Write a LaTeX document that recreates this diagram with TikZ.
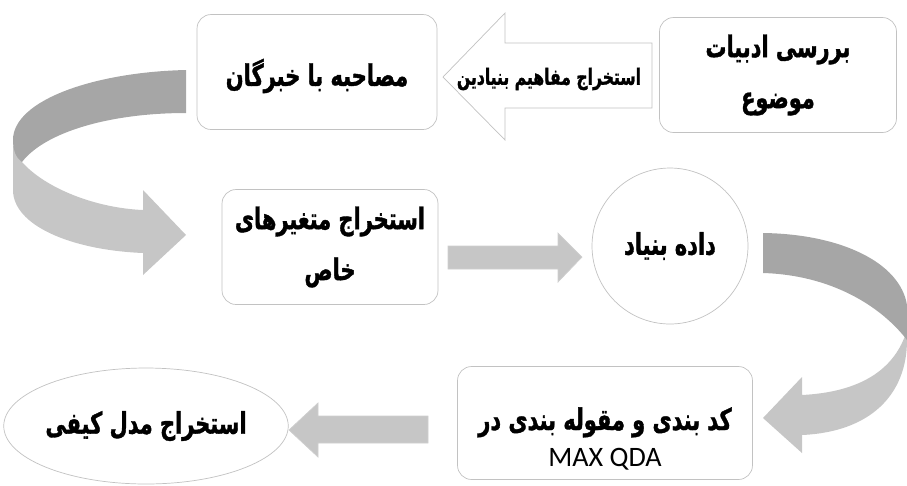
\documentclass[tikz,border=0pt]{standalone}
\usepackage{fontspec}
\usetikzlibrary{calc,positioning,shapes.geometric}
\newfontfamily\fafont[Script=Arabic,FakeStretch=0.7,FakeBold=1.2]{DejaVu Sans}
\newfontfamily\latinfont{Carlito}
\TeXXeTstate=1
\definecolor{boxline}{HTML}{C2C2C2}
\definecolor{arrowdark}{HTML}{A6A6A6}
\definecolor{arrowlight}{HTML}{C6C6C6}

\begin{document}
\begin{tikzpicture}[
  x=0.02cm, y=-0.02cm,
  stepbox/.style={rectangle,rounded corners=8pt,draw=boxline,fill=white,thin,inner sep=0pt},
  fatext/.style={font={\fafont\bfseries\fontsize{17}{29}\selectfont},align=center},
  blockarrow/.style={fill=arrowlight,draw=arrowlight!85!white,thin},
  ]

  \useasboundingbox (0,0) rectangle (907,485);

  % boxes
  \node (adabiat) [stepbox,fatext,minimum width=4.74cm,minimum height=2.3cm] at (778,75)
    {\beginR بررسی ادبیات\endR\\\beginR موضوع\endR};
  \node (mosahebe) [stepbox,minimum width=4.8cm,minimum height=2.3cm] at (317,72) {};
  \node (mosahebetext) [fatext] at ($(mosahebe.center)+(0,4)$)
    {\beginR مصاحبه با خبرگان\endR};
  \node (khas) [stepbox,fatext,minimum width=4.32cm,minimum height=2.3cm] at (330,247)
    {\beginR استخراج متغیرهای\endR\\\beginR خاص\endR};
  \node (bonyad) [circle,draw=boxline,fill=white,thin,fatext,minimum size=3.12cm,inner sep=0pt] at (670,246)
    {\beginR داده بنیاد\endR};
  \node (kodgozari) [stepbox,minimum width=5.9cm,minimum height=2.26cm] at (605,423) {};
  \node (kodtext) [fatext] at ($(kodgozari.center)+(0,16)$)
    {\beginR کد بندی و مقوله بندی در\endR\\[-8pt]{\latinfont\mdseries\fontsize{16}{20}\selectfont MAX QDA}};
  \node (madel) [ellipse,draw=boxline,fill=white,thin,fatext,minimum width=5.24cm,minimum height=2.32cm,inner sep=0pt] at (146,426)
    {\beginR استخراج مدل کیفی\endR};

  % hollow arrow with text
  \draw[draw=boxline,fill=white,thin] (443,77) -- (505,13) -- (505,43) -- (652,43)
    -- (652,108) -- (505,108) -- (505,140) -- cycle;
  \node (mafahim) [font={\fafont\bfseries\fontsize{12.7}{14}\selectfont}] at (549,79)
    {\beginR استخراج مفاهیم بنیادین\endR};

  % straight arrows
  \draw[blockarrow] (448,246) -- (558,246) -- (558,233) -- (582,257) -- (558,282)
    -- (558,269) -- (448,269) -- cycle;
  \draw[blockarrow] (428,416) -- (318,416) -- (318,403) -- (289,430) -- (318,457)
    -- (318,443) -- (428,443) -- cycle;

  % curved arrow, left
  \fill[arrowlight] (22,162) .. controls (45,188) and (95,208) .. (143,210) -- (143,190)
    -- (186,235) -- (143,275) -- (143,253) .. controls (70,250) and (13,225) .. (13,190)
    -- (13,145) -- cycle;
  \fill[arrowdark] (186,70) .. controls (95,72) and (13,100) .. (13,140)
    .. controls (13,150) and (16,158) .. (22,162)
    .. controls (45,132) and (110,113) .. (186,113) -- cycle;

  % curved arrow, right
  \fill[arrowlight] (907,330) .. controls (895,370) and (860,392) .. (802,395) -- (802,377)
    -- (763,418) -- (802,453) -- (802,435) .. controls (870,432) and (907,395) .. (907,340)
    -- cycle;
  \fill[arrowdark] (763,233) .. controls (840,234) and (900,262) .. (907,305)
    -- (907,340) .. controls (880,305) and (830,275) .. (763,273) -- cycle;

\end{tikzpicture}
\end{document}
